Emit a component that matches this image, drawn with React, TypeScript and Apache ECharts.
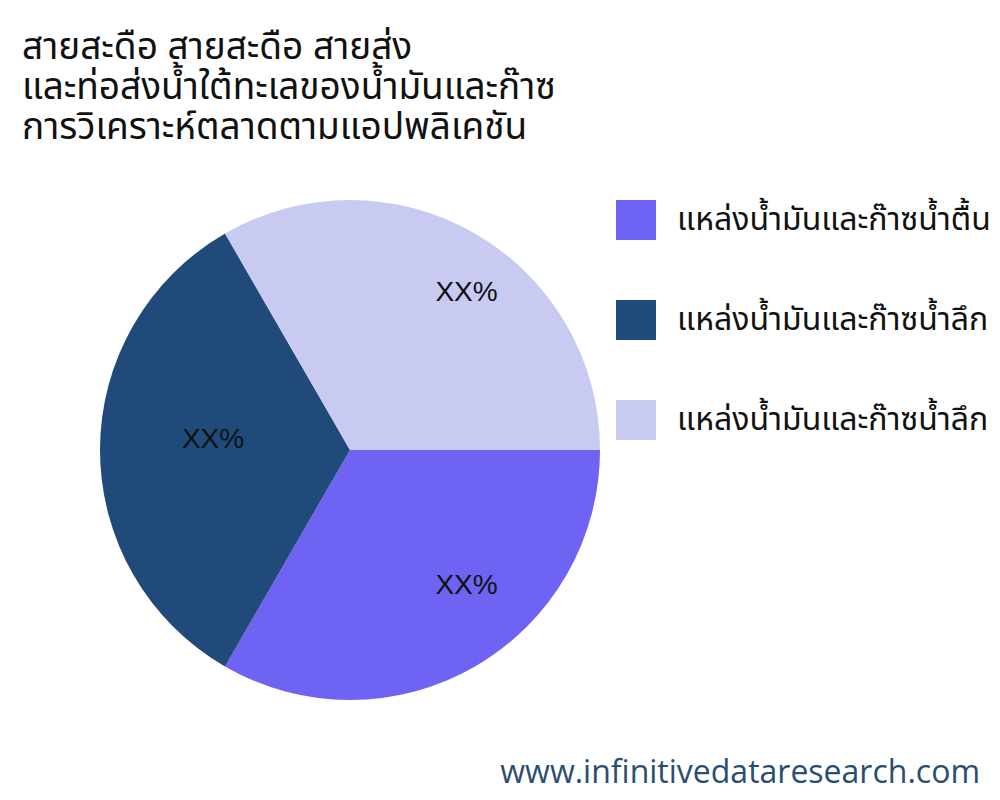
import React, { useEffect, useRef } from "react";
import * as echarts from "echarts";

const titleLines = [
  "สายสะดือ สายสะดือ สายส่ง",
  "และท่อส่งน้ำใต้ทะเลของน้ำมันและก๊าซ",
  "การวิเคราะห์ตลาดตามแอปพลิเคชัน",
];
const categories = [
  "แหล่งน้ำมันและก๊าซน้ำตื้น",
  "แหล่งน้ำมันและก๊าซน้ำลึก",
  "แหล่งน้ำมันและก๊าซน้ำลึก",
];
const values = [1, 1, 1];
const labels = ["XX%", "XX%", "XX%"];
const colors = ["#6f63f3", "#1f4a7a", "#c9caf2"];
const watermark = "www.infinitivedataresearch.com";

const thaiFont = "'Noto Sans Thai', 'Noto Sans Thai UI', 'Noto Sans', sans-serif";

export default function App() {
  const ref = useRef<HTMLDivElement>(null);
  useEffect(() => {
    if (!ref.current) return;
    const chart = echarts.init(ref.current, undefined, { renderer: "svg" });
    const names = categories.map((_, i) => `s${i}`);
    chart.setOption({
      animation: false,
      backgroundColor: "#ffffff",
      title: {
        text: titleLines.join("\n"),
        left: 9,
        top: 15,
        textStyle: {
          fontFamily: thaiFont,
          fontSize: 37,
          fontWeight: "normal",
          color: "#111111",
          lineHeight: 40,
        },
      },
      legend: {
        orient: "vertical",
        left: 603,
        top: 187,
        itemWidth: 40,
        itemHeight: 40,
        itemGap: 60,
        icon: "rect",
        selectedMode: false,
        data: names,
        formatter: (n: string) => categories[Number(n.slice(1))],
        textStyle: {
          fontFamily: thaiFont,
          fontSize: 32,
          color: "#111111",
          padding: [0, 0, 0, 16],
        },
      },
      graphic: [
        {
          type: "text",
          right: 28,
          bottom: 22,
          style: {
            text: watermark,
            fontFamily: "Open Sans, sans-serif",
            fontSize: 32,
            fill: "#2a4d73",
          },
        },
      ],
      series: [
        {
          type: "pie",
          center: [342, 442],
          radius: [0, 250],
          startAngle: 0,
          clockwise: true,
          silent: true,
          label: { show: false },
          labelLine: { show: false },
          data: values.map((v, i) => ({
            name: names[i],
            value: v,
            itemStyle: { color: colors[i] },
          })),
        },
        {
          type: "pie",
          center: [374, 430],
          radius: [0, 332],
          startAngle: 0,
          clockwise: true,
          silent: true,
          itemStyle: { color: "rgba(0,0,0,0)" },
          labelLine: { show: false },
          label: {
            show: true,
            position: "inside",
            formatter: (p: any) => labels[p.dataIndex],
            fontFamily: "Liberation Sans, Arial, sans-serif",
            fontSize: 28,
            color: "#111111",
          },
          data: values.map((v, i) => ({
            name: names[i],
            value: v,
            itemStyle: { color: "rgba(0,0,0,0)" },
          })),
        },
      ],
    });
    return () => chart.dispose();
  }, []);
  return <div ref={ref} style={{ width: 1000, height: 800 }} />;
}
